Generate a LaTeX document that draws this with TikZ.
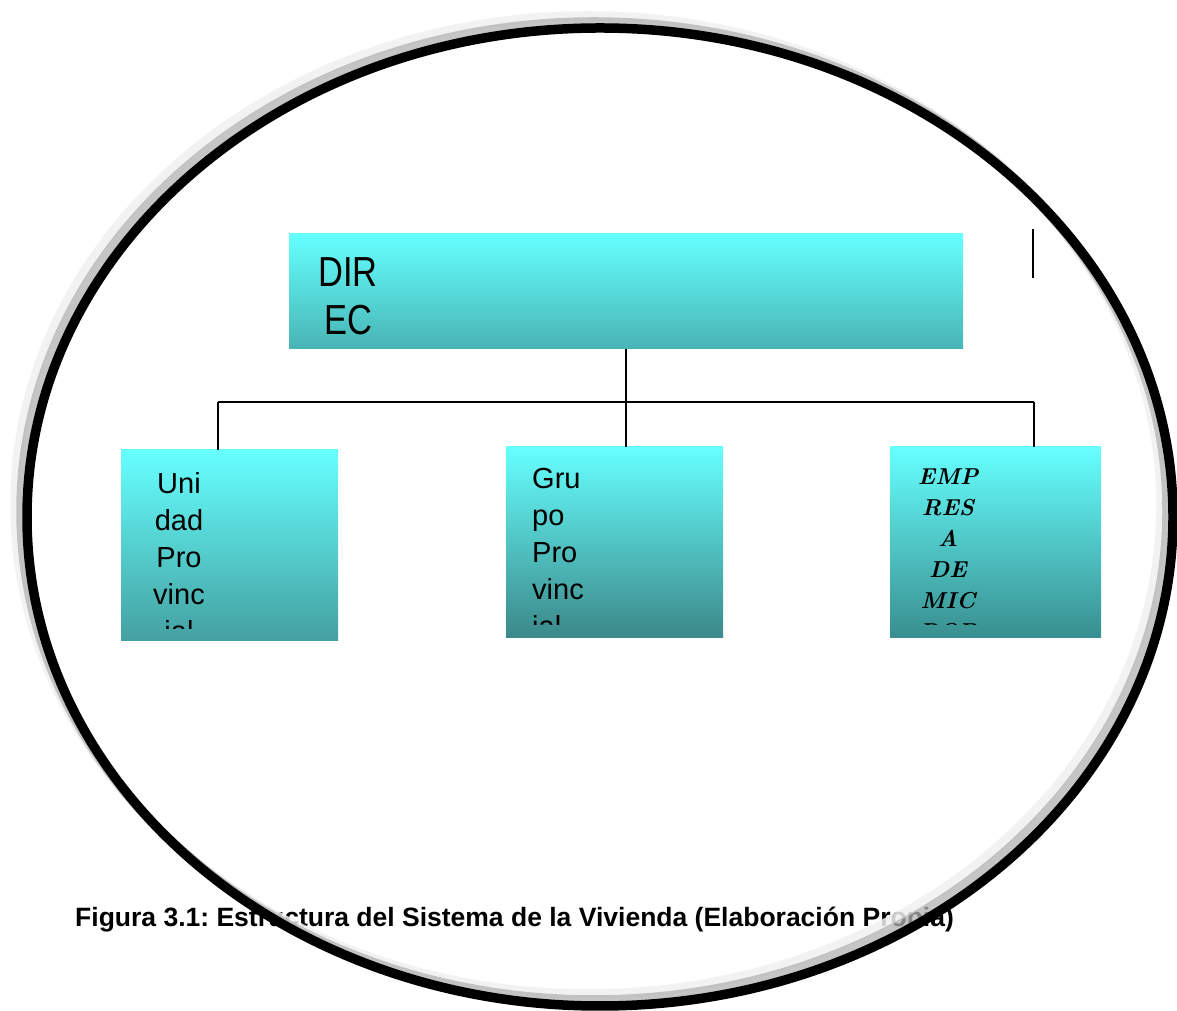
\documentclass[tikz,border=0pt]{standalone}
\usepackage{fontspec}
\setsansfont{Liberation Sans}
\newfontfamily\narrowfont[FakeStretch=0.82]{Liberation Sans}
\usetikzlibrary{positioning}
\frenchspacing

\definecolor{boxtop}{RGB}{102,255,255}
\definecolor{direcbottom}{RGB}{72,180,180}
\definecolor{unidadbottom}{RGB}{68,160,160}
\definecolor{grupobottom}{RGB}{60,136,136}

\begin{document}
\begin{tikzpicture}[
    x=1pt, y=1pt,
    orgbox/.style={draw=none, top color=boxtop, inner sep=0pt, minimum height=191pt},
    cuttext/.style={inner sep=0pt, font=\sffamily\fontsize{29}{37}\selectfont},
    link/.style={line width=1.6pt},
    rim/.style={line width=9.5pt}
  ]
  \useasboundingbox (0,0) rectangle (1177,1011);

  % caption sits under the oval
  \node[anchor=base west, inner sep=0pt, font=\sffamily\bfseries\fontsize{26.5}{30}\selectfont]
    (caption) at (75,84) {Figura 3.1: Estructura del Sistema de la Vivienda (Elaboración Propia)};

  % boxes
  \node[orgbox, bottom color=direcbottom, minimum width=674pt, minimum height=115pt] (direc) at (626,719.5) {};
  \node[orgbox, bottom color=unidadbottom, minimum width=217pt] (unidad) at (229.5,465.5) {};
  \node[orgbox, bottom color=grupobottom, minimum width=217pt] (grupo) at (614.5,468.5) {};
  \node[orgbox, bottom color=grupobottom!95!cyan, minimum width=211pt] (empresa) at (995.5,468.5) {};

  \node[anchor=north, inner sep=0pt, align=center, font=\narrowfont\fontsize{42}{48}\selectfont]
    (directxt) at (348,754) {DIR\\EC};

  \begin{scope}
    \clip (unidad.north west) rectangle ([yshift=13]unidad.south east);
    \node[cuttext, anchor=north, align=center] (unidadtxt) at (179,539) {Uni\\dad\\Pro\\vinc\\ial};
  \end{scope}
  \begin{scope}
    \clip (grupo.north west) rectangle ([yshift=14]grupo.south east);
    \node[cuttext, anchor=north west, align=left] (grupotxt) at (532,543) {Gru\\po\\Pro\\vinc\\ial};
  \end{scope}
  \begin{scope}
    \clip (empresa.north west) rectangle ([yshift=14]empresa.south east);
    \node[inner sep=0pt, anchor=north, align=center, font=\bfseries\itshape\fontsize{23}{31}\selectfont]
      (empresatxt) at (948,542) {EMP\\RES\\A\\DE\\MIC\\ROB};
  \end{scope}

  % connectors
  \coordinate (busL) at (218,609);
  \coordinate (busR) at (1034,609);
  \coordinate (tickT) at (1033,782);
  \coordinate (tickB) at (1033,733);
  \draw[link] (busL) -- (busR);
  \draw[link] (direc.south) -- (direc.south |- grupo.north);
  \draw[link] (busL) -- (busL |- unidad.north);
  \draw[link] (busR) -- (busR |- empresa.north);
  \draw[link] (tickT) -- (tickB);

  % oval with its shadow
  \draw[rim, gray!12, opacity=0.85] (588,506) ellipse [x radius=573, y radius=489];
  \draw[rim, gray!60, opacity=0.75] (594,500) ellipse [x radius=573, y radius=489];
  \draw[rim, black] (600,494) ellipse [x radius=573, y radius=489];
\end{tikzpicture}
\end{document}
